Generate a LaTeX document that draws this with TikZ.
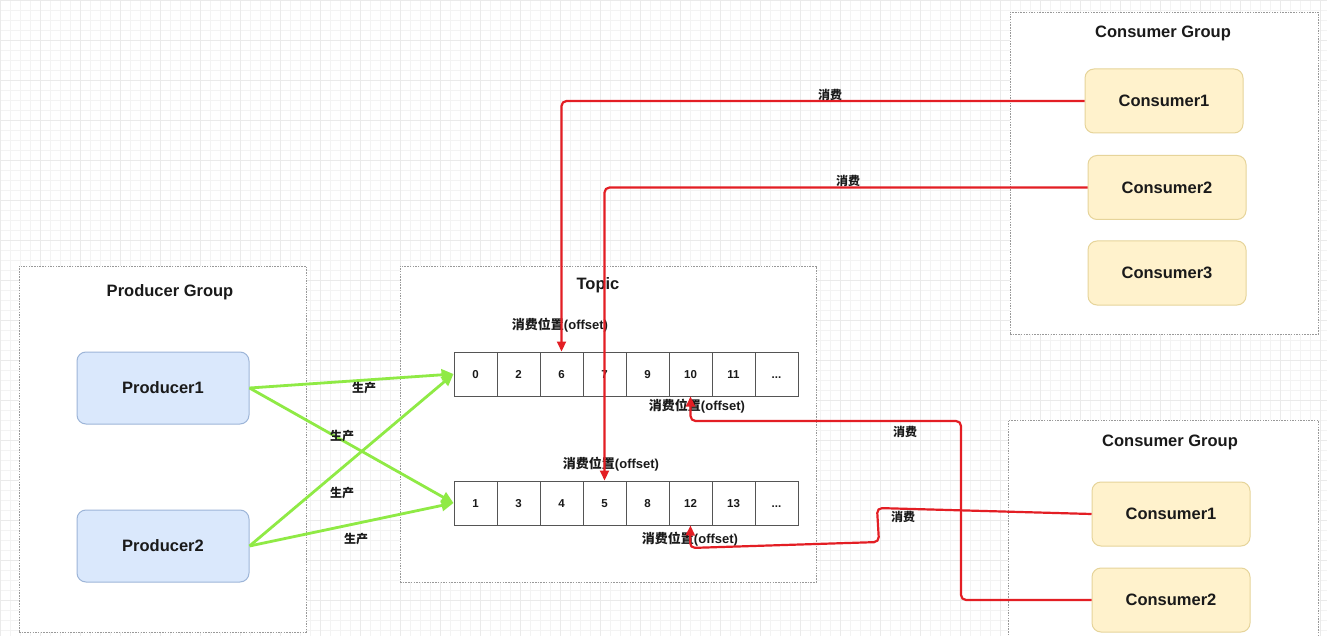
\documentclass[tikz,border=0pt]{standalone}
\usepackage{fontspec}
\setmainfont{Liberation Sans}
\newfontfamily\cjk{Noto Sans CJK SC}
\usetikzlibrary{arrows.meta}
\definecolor{txt}{HTML}{1A1A1A}
\definecolor{gridc}{HTML}{F3F3F3}
\definecolor{gridm}{HTML}{EAEAEA}
\definecolor{prodfill}{HTML}{DAE8FC}
\definecolor{prodline}{HTML}{9DB5D8}
\definecolor{consfill}{HTML}{FFF2CC}
\definecolor{consline}{HTML}{E6D49A}
\definecolor{gline}{HTML}{8FEA45}
\definecolor{rline}{HTML}{E31E24}
\definecolor{cellline}{HTML}{555555}
\tikzset{
  grp/.style={draw=gray!80, fill=white, line width=0.9pt, dash pattern=on 1.5pt off 1.2pt, inner sep=0},
  grptitle/.style={text=txt, font=\fontsize{16.5}{18}\selectfont\bfseries},
  prodbox/.style={draw=prodline, fill=prodfill, rounded corners=9pt, line width=1pt, minimum width=172pt, minimum height=72pt, text=txt, font=\fontsize{16.5}{18}\selectfont\bfseries},
  consbox/.style={draw=consline, fill=consfill, rounded corners=9pt, line width=1pt, minimum width=158pt, minimum height=64pt, text=txt, font=\fontsize{16.5}{18}\selectfont\bfseries},
  cellbox/.style={draw=cellline, fill=white, line width=1pt, minimum width=43pt, minimum height=44pt, inner sep=0, text height=8.5pt, text depth=0pt, text=txt, font=\fontsize{11.5}{13}\selectfont\bfseries},
  garrow/.style={draw=gline, line width=2.8pt, -{Triangle[length=12pt,width=11pt]}},
  rarrow/.style={draw=rline, line width=2.2pt, rounded corners=5pt, -{Triangle[length=10pt,width=9pt]}},
  lbl/.style={text=txt, inner sep=1pt, font=\fontsize{12}{14}\selectfont\bfseries},
  offlbl/.style={text=txt, inner sep=1pt, font=\fontsize{13}{15}\selectfont\bfseries},
}
\begin{document}
\begin{tikzpicture}[x=1pt,y=-1pt]
\useasboundingbox (0,0) rectangle (1327,636);
\fill[white] (0,0) rectangle (1327,636);
\foreach \gx in {0,10,...,1320} \draw[gridc, line width=0.6pt] (\gx,0) -- (\gx,636);
\foreach \gy in {0,10,...,630} \draw[gridc, line width=0.6pt] (0,\gy) -- (1327,\gy);
\foreach \gx in {0,40,...,1320} \draw[gridm, line width=0.6pt] (\gx,0) -- (\gx,636);
\foreach \gy in {0,40,...,630} \draw[gridm, line width=0.6pt] (0,\gy) -- (1327,\gy);

% groups
\node[grp, minimum width=287pt, minimum height=366pt] (pg) at (162.5,449) {};
\node[grptitle] (pgt) at (170,292) {Producer Group};
\node[grp, minimum width=416pt, minimum height=316pt] (tg) at (608,424) {};
\node[grptitle] (tgt) at (598,285) {Topic};
\node[grp, minimum width=308pt, minimum height=322pt] (cg1) at (1164,173) {};
\node[grptitle] (cg1t) at (1163,33) {Consumer Group};
\node[grp, minimum width=310pt, minimum height=230pt] (cg2) at (1163,535) {};
\node[grptitle] (cg2t) at (1170,442) {Consumer Group};

% producers
\node[prodbox] (p1) at (163,388) {Producer1};
\node[prodbox] (p2) at (163,546) {Producer2};

% consumers
\node[consbox] (c1) at (1164,101) {Consumer1};
\node[consbox] (c2) at (1167,187.5) {Consumer2};
\node[consbox] (c3) at (1167,273) {Consumer3};
\node[consbox] (d1) at (1171,514) {Consumer1};
\node[consbox] (d2) at (1171,600) {Consumer2};

% arrays
\foreach \v [count=\i] in {0,2,6,7,9,10,11}
  \node[cellbox] (ra\i) at (475.5+43*\i-43,374) {\v};
\node[cellbox] (ra8) at (776.5,374) {...};
\foreach \v [count=\i] in {1,3,4,5,8,12,13}
  \node[cellbox] (rb\i) at (475.5+43*\i-43,503) {\v};
\node[cellbox] (rb8) at (776.5,503) {...};

% offset labels
\node[offlbl] (o1) at (560,325) {{\cjk 消费位置}(offset)};
\node[offlbl] (o2) at (697,406) {{\cjk 消费位置}(offset)};
\node[offlbl] (o3) at (611,464) {{\cjk 消费位置}(offset)};
\node[offlbl] (o4) at (690,539) {{\cjk 消费位置}(offset)};

% producer arrows
\draw[garrow] (p1.east) -- (ra1.west);
\draw[garrow] (p1.east) -- (rb1.west);
\draw[garrow] (p2.east) -- (ra1.west);
\draw[garrow] (p2.east) -- (rb1.west);
\node[lbl] (g1) at (364,388) {\cjk 生产};
\node[lbl] (g2) at (342,436) {\cjk 生产};
\node[lbl] (g3) at (342,493) {\cjk 生产};
\node[lbl] (g4) at (356,539) {\cjk 生产};

% consumer arrows
\draw[rarrow] (c1.west) -| (ra3.north);
\draw[rarrow] (c2.west) -| (rb4.north);
\coordinate (k1) at (961,421);
\draw[rarrow] (d2.west) -| (k1) -| (ra6.south);
\coordinate (k2) at (877,508);
\coordinate (k3) at (879,542);
\coordinate (k4) at (690,548);
\draw[rarrow] (d1.west) -- (k2) -- (k3) -- (k4) -- (rb6.south);
\node[lbl] (r1) at (830,95) {\cjk 消费};
\node[lbl] (r2) at (848,181) {\cjk 消费};
\node[lbl] (r3) at (905,432) {\cjk 消费};
\node[lbl] (r4) at (903,517) {\cjk 消费};
\end{tikzpicture}
\end{document}
